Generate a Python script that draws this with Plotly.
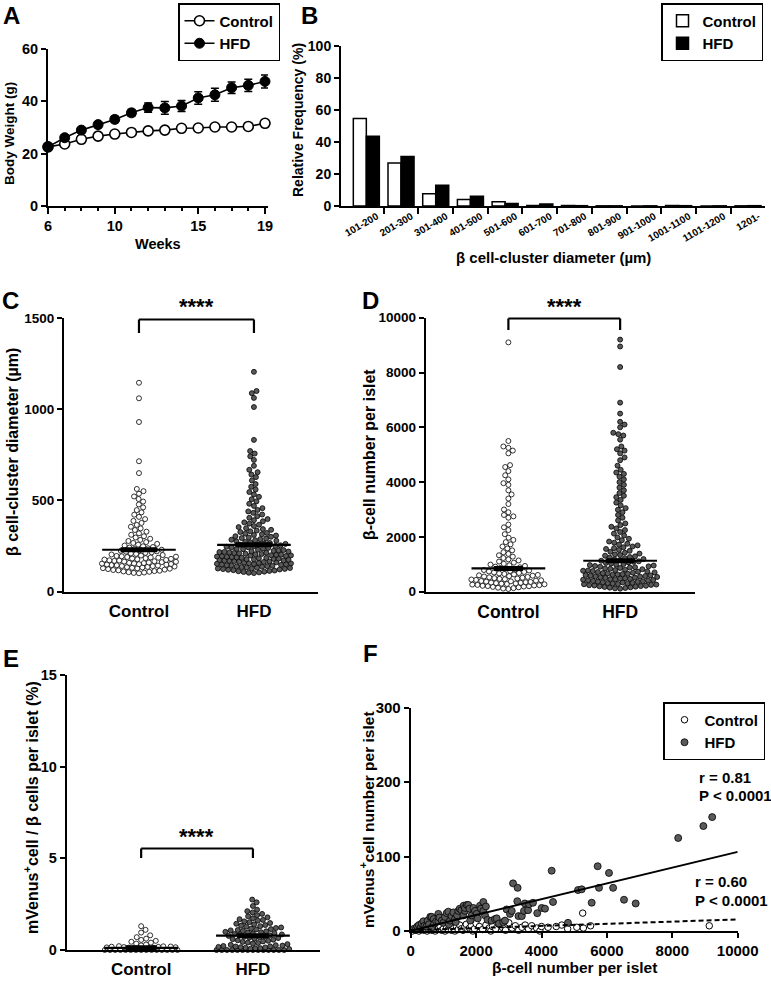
import numpy as np
import plotly.graph_objects as go

W, H = 771, 984
def fx(px): return px / W
def fy(py): return 1 - py / H

FONT = "Liberation Sans, Arial, Helvetica, sans-serif"
GRAY = "#5a5a5a"

# ---------------- Panel A : body weight ----------------
weeks = list(range(6, 20))
bw_control = [22.6, 23.7, 25.5, 26.7, 27.5, 28.1, 28.7, 29.0, 29.7, 29.8, 30.2, 30.2, 30.4, 31.6]
bw_control_err = [0.6, 0.6, 0.6, 0.6, 0.6, 0.6, 0.6, 0.7, 0.7, 0.7, 0.7, 0.7, 0.8, 0.8]
bw_hfd = [22.6, 26.1, 29.0, 31.1, 33.1, 35.6, 37.6, 37.5, 38.2, 41.3, 42.5, 45.2, 46.1, 47.6]
bw_hfd_err = [0.8, 0.9, 1.0, 1.1, 1.2, 1.3, 1.8, 2.4, 2.1, 2.4, 2.5, 2.2, 2.3, 2.5]

# ---------------- Panel B : histogram ----------------
size_bins = ["101-200", "201-300", "301-400", "401-500", "501-600", "601-700", "701-800",
             "801-900", "901-1000", "1001-1100", "1101-1200", "1201-"]
freq_control = [54.7, 26.9, 7.7, 4.0, 2.7, 0.3, 0.3, 0.1, 0.0, 0.3, 0.0, 0.1]
freq_hfd = [43.6, 30.9, 12.9, 6.1, 1.5, 1.2, 0.2, 0.1, 0.1, 0.2, 0.1, 0.2]

# ---------------- Panel C : cluster diameter (um) ----------------
diam_control = [101, 103, 105, 107, 109, 111, 113, 115, 117, 119, 121, 124,
                126, 128, 129, 131, 133, 135, 136, 138, 140, 141, 143, 145, 146, 148, 149,
                151, 152, 154, 155, 157, 158, 160, 162, 164, 165, 167, 169, 171, 172, 174,
                176, 178, 180, 182, 184, 186, 188, 190, 192, 194, 196, 198,
                201, 204, 207, 210, 213, 216, 219, 221, 224,
                227, 230, 234, 238, 242, 245, 249,
                253, 258, 262, 267, 272, 278, 284, 290, 297,
                304, 312, 320, 329, 338, 347, 356, 366, 377, 388, 398,
                410, 422, 435, 447, 462, 478, 494, 508, 522, 537, 551, 563,
                650, 715, 930, 1060, 1145]
diam_hfd = [102, 104, 106, 108, 110, 112, 114, 116, 118, 120, 122, 124,
            125, 127, 128, 130, 132, 133, 135, 137, 139, 140, 142, 144, 145, 147, 149,
            150, 152, 153, 155, 156, 158, 159, 161, 163, 164, 166, 168, 169, 171, 172, 174,
            175, 177, 178, 180, 181, 183, 185, 186, 188, 190, 191, 193, 195, 196, 198, 199,
            200, 202, 203, 205, 207, 208, 210, 212, 213, 215, 217, 218, 220, 222, 224,
            226, 228, 230, 233, 235, 237, 240, 242, 244, 246, 249,
            251, 254, 257, 259, 262, 265, 267, 270, 273,
            276, 279, 282, 285, 288, 291, 294, 297,
            301, 304, 308, 311, 315, 318, 322, 327, 331, 335, 339, 343, 348,
            354, 360, 367, 373, 380, 386, 392, 398, 405, 414, 423, 432, 440, 448,
            458, 470, 482, 495, 507, 520, 533, 546, 560, 575, 590,
            610, 628, 642, 655, 668, 690, 722, 742, 757, 771, 832,
            1012, 1062, 1088, 1100, 1205]
diam_mean = [230, 257]

# ---------------- Panel D : beta-cell number per islet ----------------
cells_control = [100, 115, 130, 145, 160, 175, 188, 198,
                 205, 216, 227, 238, 249, 260, 271, 282, 294,
                 302, 313, 324, 335, 346, 357, 368, 379, 392,
                 405, 418, 431, 444, 457, 470, 483, 496,
                 510, 525, 540, 555, 570, 585, 598,
                 612, 630, 648, 666, 684, 702, 720, 738, 756, 774, 792,
                 815, 840, 865, 890, 915, 940, 965, 990,
                 1020, 1060, 1100, 1140, 1180, 1230, 1280, 1330, 1380,
                 1440, 1510, 1580, 1650, 1730, 1810, 1890, 1970,
                 2100, 2250, 2350, 2450, 2700, 2750, 2800, 2900, 3000,
                 3200, 3400, 3550, 3700, 3900, 3960,
                 4100, 4250, 4400, 4550, 4620, 5050, 5150, 5250, 5300, 5500, 9100]
cells_hfd = [110, 122, 135, 148, 160, 172, 184, 196,
             205, 216, 227, 238, 249, 260, 271, 282, 294,
             303, 314, 325, 336, 347, 358, 369, 380, 392,
             404, 415, 426, 437, 448, 459, 470, 481, 493,
             505, 516, 527, 538, 549, 560, 571, 582, 594,
             606, 618, 630, 642, 654, 666, 678, 692,
             705, 717, 729, 741, 753, 765, 777, 790,
             805, 820, 835, 850, 865, 880, 895,
             910, 925, 940, 955, 970, 988,
             1010, 1030, 1050, 1070, 1090, 1110, 1130, 1150, 1170, 1190,
             1215, 1240, 1265, 1290, 1315, 1340, 1365, 1390,
             1420, 1455, 1490, 1525, 1560, 1590,
             1620, 1650, 1690, 1720, 1750, 1790,
             1830, 1880, 1930, 1980,
             2050, 2120, 2180, 2250, 2310, 2370, 2430, 2490,
             2600, 2700, 2800, 2900, 2990,
             3050, 3150, 3250, 3350, 3450, 3500,
             3600, 3700, 3800, 3900, 4000,
             4100, 4200, 4300, 4350, 4450,
             4600, 4800, 4900,
             5050, 5150, 5200, 5300, 5550, 5700, 5750, 5800, 6000,
             6100, 6200, 6500, 6900, 8200, 8950, 9200]
cells_mean = [850, 1130]

# ---------------- Panel E : mVenus+ / beta cells (%) ----------------
venus_pct_control = [0, 0, 0, 0, 0, 0, 0, 0, 0, 0, 0, 0, 0, 0, 0,
                     0.08, 0.09, 0.10, 0.11, 0.12, 0.13, 0.14, 0.15, 0.16, 0.17, 0.18, 0.19, 0.20, 0.21,
                     0.25, 0.30, 0.35, 0.40, 0.45, 0.50, 0.55, 0.62, 0.70, 0.80, 0.95, 1.10, 1.30]
venus_pct_hfd = [0, 0, 0, 0, 0, 0, 0, 0, 0, 0, 0, 0, 0, 0,
                 0.05, 0.07, 0.09, 0.10, 0.12, 0.14, 0.15, 0.17, 0.19, 0.20, 0.22, 0.24, 0.26, 0.28,
                 0.32, 0.35, 0.38, 0.41, 0.44, 0.47, 0.50,
                 0.53, 0.56, 0.59, 0.62, 0.65, 0.68, 0.70, 0.72, 0.74,
                 0.77, 0.80, 0.82, 0.85, 0.87, 0.90, 0.92, 0.95, 0.97, 0.99,
                 1.02, 1.04, 1.07, 1.09, 1.12, 1.14, 1.17, 1.20, 1.23,
                 1.27, 1.30, 1.33, 1.36, 1.40, 1.43, 1.47,
                 1.52, 1.56, 1.60, 1.64, 1.68, 1.73,
                 1.78, 1.84, 1.90, 1.97, 2.05, 2.12, 2.20, 2.40, 2.60, 2.75]
venus_pct_mean = [0.12, 0.78]

# ---------------- Panel F : scatter ----------------
f_hfd_cells = [100, 150, 200, 250, 300, 336, 387, 420, 480, 520, 560, 600, 641, 650, 700, 720, 780,
               845, 845, 880, 950, 1000, 1049, 1100, 1151, 1170, 1200, 1250, 1304, 1355, 1380, 1420,
               1456, 1500, 1550, 1610, 1620, 1660, 1660, 1712, 1760, 1800, 1820, 1865, 1916, 1967,
               2018, 2050, 2120, 2150, 2222, 2222, 2273, 2300, 2350, 2477, 2579, 2630, 2700, 2830,
               2885, 2935, 3037, 3090, 3130, 3260, 3270, 3296, 3398, 3465, 3490, 3590, 3620, 3740,
               3870, 4006, 4107, 4311, 4352, 4810, 5116, 5229, 5535, 5718, 5758, 6064, 6190, 6523,
               6880, 8180, 8950, 9220]
f_hfd_venus = [3, 2, 6, 8, 4, 10, 13, 7, 6, 14, 9, 19, 19, 5, 16, 10, 13,
               23, 13, 18, 14, 11, 19, 24, 26, 9, 14, 20, 25, 16, 12, 21,
               27, 30, 28, 21, 34, 27, 31, 35, 35, 30, 14, 21, 31, 27,
               23, 17, 34, 30, 39, 27, 21, 33, 15, 14, 16, 17, 10, 12,
               14, 29, 23, 27, 64, 40, 58, 20, 20, 27, 37, 28, 36, 38,
               24, 31, 30, 81, 39, 11, 55, 56, 38, 87, 58, 78, 58, 42,
               37, 125, 141, 153]
f_ctrl_cells = [50, 100, 150, 200, 250, 300, 350, 400, 450, 500, 550, 600, 650, 700, 750, 800,
                850, 900, 950, 1000, 1050, 1100, 1150, 1200, 1250, 1300, 1350, 1400, 1450, 1500,
                1550, 1600, 1650, 1700, 1750, 1800, 1850, 1900, 1950, 2000, 2100, 2200, 2300,
                2400, 2450, 2500, 2600, 2700, 2800, 2900, 3000, 3100, 3200, 3300, 3400, 3500,
                3600, 3700, 3850, 3950, 4000, 4200, 4450, 4620, 4800, 5080, 5260, 5280, 5500, 9130]
f_ctrl_venus = [0, 2, 1, 3, 0, 2, 4, 1, 3, 0, 2, 5, 1, 3, 0, 2,
                4, 6, 1, 3, 0, 5, 2, 7, 1, 4, 0, 6, 2, 8,
                3, 1, 5, 9, 2, 4, 7, 0, 3, 10, 6, 2, 8,
                4, 0, 6, 3, 9, 5, 1, 11, 4, 7, 1, 5, 8,
                3, 7, 4, 0, 6, 5, 6, 8, 3, 5, 24, 4, 7, 7]
fit_hfd = [0.3, 0.0106]      # intercept, slope
fit_ctrl = [1.0, 0.00145]
fit_x = [0, 10000]


def beeswarm(values, ppu, diam, maxhalf):
    """x offsets (px) so that markers of diameter `diam` do not overlap."""
    vals = np.asarray(values, float)
    order = np.argsort(vals, kind="stable")
    xs = np.zeros(len(vals))
    placed = []
    tol = 1e-3
    for k, idx in enumerate(order):
        y = vals[idx] * ppu
        near = [(px_, py_) for (px_, py_) in placed if abs(py_ - y) < diam]
        cands = [0.0]
        for (px_, py_) in near:
            dx = np.sqrt(diam ** 2 - (py_ - y) ** 2)
            cands += [px_ + dx + 2 * tol, px_ - dx - 2 * tol]
        sgn = 1 if k % 2 else -1
        cands = sorted(cands, key=lambda c: (abs(c), sgn * c))
        chosen = None
        for c in cands:
            if abs(c) > maxhalf:
                continue
            ok = all(abs(c - px_) >= np.sqrt(max(diam ** 2 - (py_ - y) ** 2, 0)) - tol
                     for px_, py_ in near)
            if ok:
                chosen = c
                break
        if chosen is None:
            grid = np.linspace(-maxhalf, maxhalf, 31)
            chosen = max(grid, key=lambda c: min(np.hypot(c - px_, py_ - y) for px_, py_ in near))
        xs[idx] = chosen
        placed.append((chosen, y))
    return xs


fig = go.Figure()

# ---------- A ----------
fig.add_trace(go.Scatter(x=weeks, y=bw_control, mode="lines+markers", name="Control",
                         line=dict(color="black", width=1.6),
                         marker=dict(symbol="circle", size=10, color="white", line=dict(color="black", width=1.6)),
                         error_y=dict(type="data", array=bw_control_err, color="black", thickness=1.5, width=4),
                         xaxis="x", yaxis="y", legend="legend", cliponaxis=False))
fig.add_trace(go.Scatter(x=weeks, y=bw_hfd, mode="lines+markers", name="HFD",
                         line=dict(color="black", width=1.6),
                         marker=dict(symbol="circle", size=10, color="black", line=dict(color="black", width=1)),
                         error_y=dict(type="data", array=bw_hfd_err, color="black", thickness=1.5, width=4),
                         xaxis="x", yaxis="y", legend="legend", cliponaxis=False))

# ---------- B ----------
fig.add_trace(go.Bar(x=list(range(len(size_bins))), y=freq_control, name="Control",
                     marker=dict(color="white", line=dict(color="black", width=1.5)),
                     xaxis="x2", yaxis="y2", legend="legend2"))
fig.add_trace(go.Bar(x=list(range(len(size_bins))), y=freq_hfd, name="HFD",
                     marker=dict(color="black", line=dict(color="black", width=1.5)),
                     xaxis="x2", yaxis="y2", legend="legend2"))

# ---------- swarm panels ----------
def add_swarm(vals_c, vals_h, means, xa, ya, ppu_y, ppx, mean_half, sem_half, diam=5.2, maxhalf=37):
    for i, (vals, fill) in enumerate([(vals_c, "white"), (vals_h, GRAY)]):
        off = beeswarm(vals, ppu_y, diam, maxhalf) / ppx
        fig.add_trace(go.Scatter(x=i + off, y=vals, mode="markers", showlegend=False,
                                 marker=dict(size=5, color=fill, line=dict(color="black", width=0.8)),
                                 xaxis=xa, yaxis=ya, cliponaxis=False, hoverinfo="skip"))
    for i, m in enumerate(means):
        fig.add_trace(go.Scatter(x=[i - mean_half, i + mean_half], y=[m, m], mode="lines",
                                 line=dict(color="black", width=2.2), showlegend=False,
                                 xaxis=xa, yaxis=ya))
        fig.add_trace(go.Scatter(x=[i - sem_half, i + sem_half], y=[m, m], mode="lines",
                                 line=dict(color="black", width=5), showlegend=False,
                                 xaxis=xa, yaxis=ya))

add_swarm(diam_control, diam_hfd, diam_mean, "x3", "y3", 273.7 / 1500, 115, 0.32, 0.16)
add_swarm(cells_control, cells_hfd, cells_mean, "x4", "y4", 274 / 10000, 111.7, 0.33, 0.13)
add_swarm(venus_pct_control, venus_pct_hfd, venus_pct_mean, "x5", "y5", 275 / 15, 112, 0.33, 0.14)

# ---------- F ----------
fig.add_trace(go.Scatter(x=f_ctrl_cells, y=f_ctrl_venus, mode="markers", name="Control",
                         marker=dict(size=6.5, color="white", line=dict(color="black", width=1)),
                         xaxis="x6", yaxis="y6", legend="legend3", cliponaxis=False))
fig.add_trace(go.Scatter(x=f_hfd_cells, y=f_hfd_venus, mode="markers", name="HFD",
                         marker=dict(size=7, color=GRAY, line=dict(color="black", width=0.8)),
                         xaxis="x6", yaxis="y6", legend="legend3", cliponaxis=False))
fig.add_trace(go.Scatter(x=fit_x, y=[fit_hfd[0] + fit_hfd[1] * v for v in fit_x], mode="lines",
                         line=dict(color="black", width=2), showlegend=False, xaxis="x6", yaxis="y6"))
fig.add_trace(go.Scatter(x=fit_x, y=[fit_ctrl[0] + fit_ctrl[1] * v for v in fit_x], mode="lines",
                         line=dict(color="black", width=2, dash="5px,3px"), showlegend=False,
                         xaxis="x6", yaxis="y6"))


def axis(dom, rng, anchor, size=14, **kw):
    d = dict(domain=dom, range=rng, anchor=anchor, showline=True, linecolor="black", linewidth=2,
             ticks="outside", tickwidth=2, ticklen=5, tickcolor="black", showgrid=False,
             zeroline=False, fixedrange=True, automargin=False,
             tickfont=dict(family=FONT, size=size, color="black", weight="bold"))
    d.update(kw)
    return d

def xd(a, b): return [fx(a), fx(b)]
def yd(top, bottom): return [fy(bottom), fy(top)]

cells_ticks = [0, 2000, 4000, 6000, 8000, 10000]
cells_ticktext = ["0", "2000", "4000", "6000", "8000", "10000"]

layout = dict(
    width=W, height=H, margin=dict(l=0, r=0, t=0, b=0, pad=0, autoexpand=False),
    paper_bgcolor="white", plot_bgcolor="rgba(0,0,0,0)",
    font=dict(family=FONT, color="black"),
    barmode="group", bargap=0.25, bargroupgap=0.0,
    xaxis=axis(xd(48, 268), [6, 19.18], "y", 14.5, tickvals=[6, 10, 15, 19], ticklen=6,
               minor=dict(dtick=1, tick0=6, ticks="outside", ticklen=3, tickwidth=1.5, tickcolor="black")),
    yaxis=axis(yd(49, 206), [0, 60], "x", 14.5, tickvals=[0, 20, 40, 60]),
    xaxis2=axis(xd(341, 765), [-0.73, 11.49], "y2", 10,
                tickvals=[i + 0.3 for i in range(len(size_bins))], ticktext=size_bins,
                tickangle=-30, ticklen=0, ticklabelstandoff=-1,
                minor=dict(tickvals=[i + 0.5 for i in range(len(size_bins) - 1)], ticks="outside",
                           ticklen=6, tickwidth=1.5, tickcolor="black")),
    yaxis2=axis(yd(46, 206), [0, 100], "x2", 14, tickvals=[0, 20, 40, 60, 80, 100]),
    xaxis3=axis(xd(64, 318), [-0.652, 1.557], "y3", 17, tickvals=[0, 1], ticktext=["Control", "HFD"],
                ticks="", ticklabelstandoff=3),
    yaxis3=axis(yd(318, 591.7), [0, 1500], "x3", 13.5, tickvals=[0, 500, 1000, 1500]),
    xaxis4=axis(xd(425.7, 695), [-0.74, 1.67], "y4", 17.5, tickvals=[0, 1], ticktext=["Control", "HFD"],
                ticks="", ticklabelstandoff=3),
    yaxis4=axis(yd(317.7, 591.7), [0, 10000], "x4", 13.5, tickvals=cells_ticks, ticktext=cells_ticktext),
    xaxis5=axis(xd(66.7, 320), [-0.666, 1.6], "y5", 17, tickvals=[0, 1], ticktext=["Control", "HFD"],
                ticks="", ticklabelstandoff=3),
    yaxis5=axis(yd(675, 950), [0, 15], "x5", 14.5, tickvals=[0, 5, 10, 15]),
    xaxis6=axis(xd(410.7, 737.7), [0, 10000], "y6", 15, tickvals=cells_ticks, ticktext=cells_ticktext),
    yaxis6=axis(yd(707.7, 931), [0, 300], "x6", 15, tickvals=[0, 100, 200, 300]),
)

leg = dict(bgcolor="white", bordercolor="black", borderwidth=1.5, xanchor="left", yanchor="top",
           font=dict(family=FONT, size=15, color="black", weight="bold"), tracegroupgap=2, itemwidth=30)
layout["legend"] = dict(leg, x=fx(178), y=fy(3))
layout["legend2"] = dict(leg, x=fx(661), y=fy(3))
layout["legend3"] = dict(leg, x=fx(663), y=fy(702))

ann = []
def text(px, py, s, size, angle=0, xanchor="center", yanchor="middle"):
    ann.append(dict(x=fx(px), y=fy(py), xref="paper", yref="paper", text=s, showarrow=False,
                    textangle=angle, xanchor=xanchor, yanchor=yanchor,
                    font=dict(family=FONT, size=size, color="black", weight="bold")))

# panel letters
for lab, px, py in [("A", 11, 15), ("B", 309, 15), ("C", 10, 300), ("D", 370, 300),
                    ("E", 11, 658), ("F", 370, 653)]:
    text(px, py, lab, 24)
# axis titles
text(9, 134, "Body Weight (g)", 13.5, -90)
text(158, 244, "Weeks", 14.5)
text(298, 120, "Relative Frequency (%)", 14, -90)
text(553, 257, "β cell-cluster diameter (µm)", 15)
text(12, 452, "β cell-cluster diameter (µm)", 16, -90)
text(369, 455, "β-cell number per islet", 16, -90)
text(31, 808, "mVenus<sup>+</sup>cell / β cells per islet (%)", 16, -90)
text(367, 820, "mVenus<sup>+</sup>cell number per islet", 15.5, -90)
text(574, 967, "β-cell number per islet", 15.5)
# significance stars
text(196, 306, "****", 22)
text(564, 306, "****", 22)
text(196, 836, "****", 22)
# correlation texts
text(697, 777, "r = 0.81", 15, xanchor="left")
text(697, 795, "P < 0.0001", 15, xanchor="left")
text(693, 881, "r = 0.60", 15, xanchor="left")
text(693, 900, "P < 0.0001", 15, xanchor="left")
layout["annotations"] = ann

# significance brackets (x in category units, y in paper)
shapes = []
def bracket(xref, top_py, leg_py):
    for x0, y0, x1, y1 in [(0, leg_py, 0, top_py), (0, top_py, 1, top_py), (1, top_py, 1, leg_py)]:
        shapes.append(dict(type="line", xref=xref, yref="paper", x0=x0, x1=x1, y0=fy(y0), y1=fy(y1),
                           line=dict(color="black", width=2.2)))
bracket("x3", 319.5, 333)
bracket("x4", 318.5, 330)
bracket("x5", 848.5, 858)
layout["shapes"] = shapes

fig.update_layout(**layout)
fig.write_html("out.html", config={"displayModeBar": False},
               post_script="document.body.style.margin='0';document.body.style.padding='0';")
